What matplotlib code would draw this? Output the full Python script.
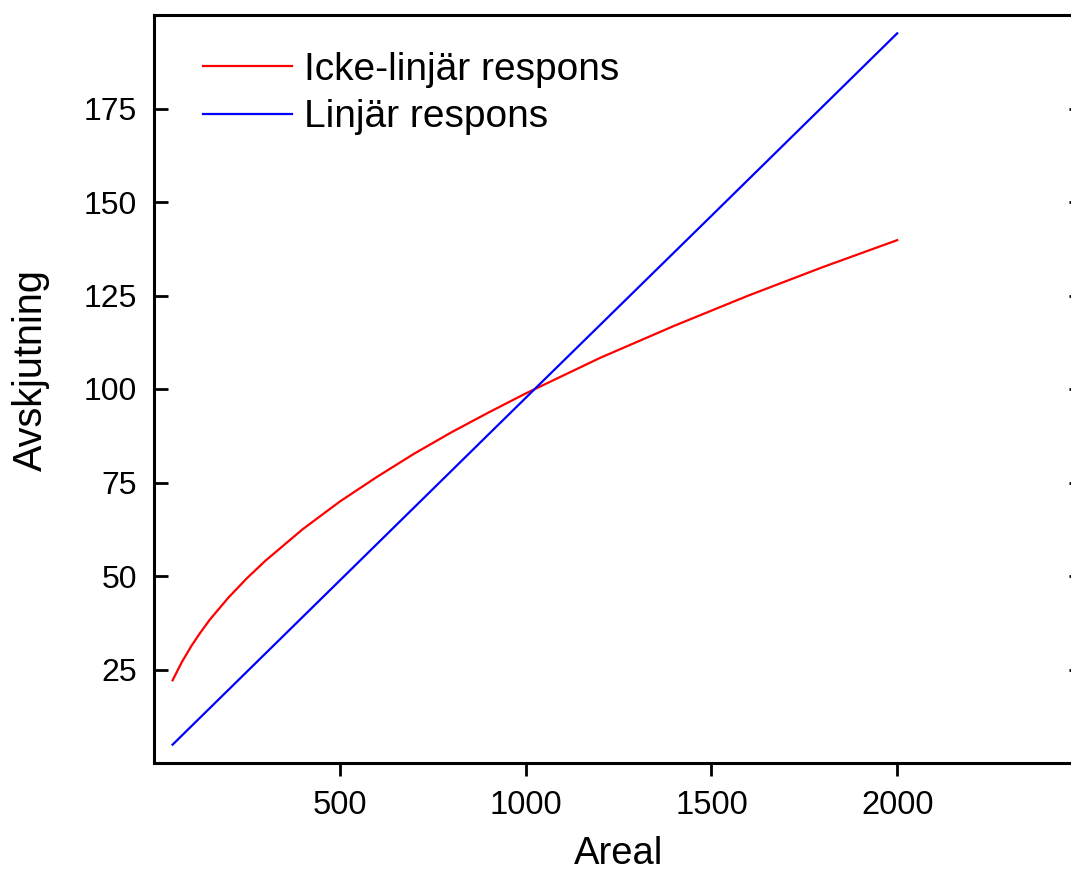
#!/usr/bin/env python3
"""Nonlinear vs linear response of Avskjutning against Areal."""

import matplotlib

matplotlib.use("Agg")

import matplotlib.pyplot as plt

# values
AREAL_NONLIN = [50, 75, 100, 125, 150, 200, 250, 300, 400, 500, 600, 700, 800,
                900, 1000, 1200, 1400, 1600, 1800, 2000]
AVSK_NONLIN = [22.1, 27.0, 31.2, 34.9, 38.3, 44.2, 49.4, 54.1, 62.5, 69.9,
               76.5, 82.7, 88.4, 93.7, 98.8, 108.3, 116.9, 125.0, 132.6, 139.8]

AREAL_LIN = [50, 500, 1000, 1500, 2000]
AVSK_LIN = [4.9, 48.8, 97.6, 146.3, 195.1]

X_TICKS = [500, 1000, 1500, 2000]
Y_TICKS = [25, 50, 75, 100, 125, 150, 175]

plt.rcParams["font.family"] = ["Liberation Sans", "DejaVu Sans"]


def main():
    fig = plt.figure(figsize=(10.71, 8.74), dpi=100)
    ax = fig.add_axes([154 / 1071, 1 - 763 / 874, 929 / 1071, 748 / 874])

    ax.plot(AREAL_NONLIN, AVSK_NONLIN, color="#ff0000", lw=1.6, label="Icke-linjär respons")
    ax.plot(AREAL_LIN, AVSK_LIN, color="#0000ff", lw=1.6, label="Linjär respons")

    ax.set_xlim(0, 2500)
    ax.set_ylim(0, 200)
    ax.set_xticks(X_TICKS)
    ax.set_yticks(Y_TICKS)

    for side in ("left", "bottom", "top"):
        ax.spines[side].set_linewidth(2.2)
    ax.spines["right"].set_visible(False)

    ax.tick_params(axis="x", direction="out", length=9.5, width=2, pad=10, labelsize=23.5)
    ax.tick_params(axis="y", direction="in", length=10, width=2, pad=12, labelsize=23,
                   right=True)

    # the reference crops this label at the bottom edge; keep it just inside
    ax.set_xlabel("Areal", fontsize=27.5, labelpad=11)
    ax.set_ylabel("Avskjutning", fontsize=28.5)
    ax.yaxis.set_label_coords(-0.112, 0.525)

    ax.legend(loc="upper left", bbox_to_anchor=(0.0527, 0.951), frameon=False,
              fontsize=28, handlelength=2.3, handletextpad=0.3, labelspacing=0.3,
              borderpad=0, borderaxespad=0)

    fig.savefig("out.png", dpi=100)


if __name__ == "__main__":
    main()
